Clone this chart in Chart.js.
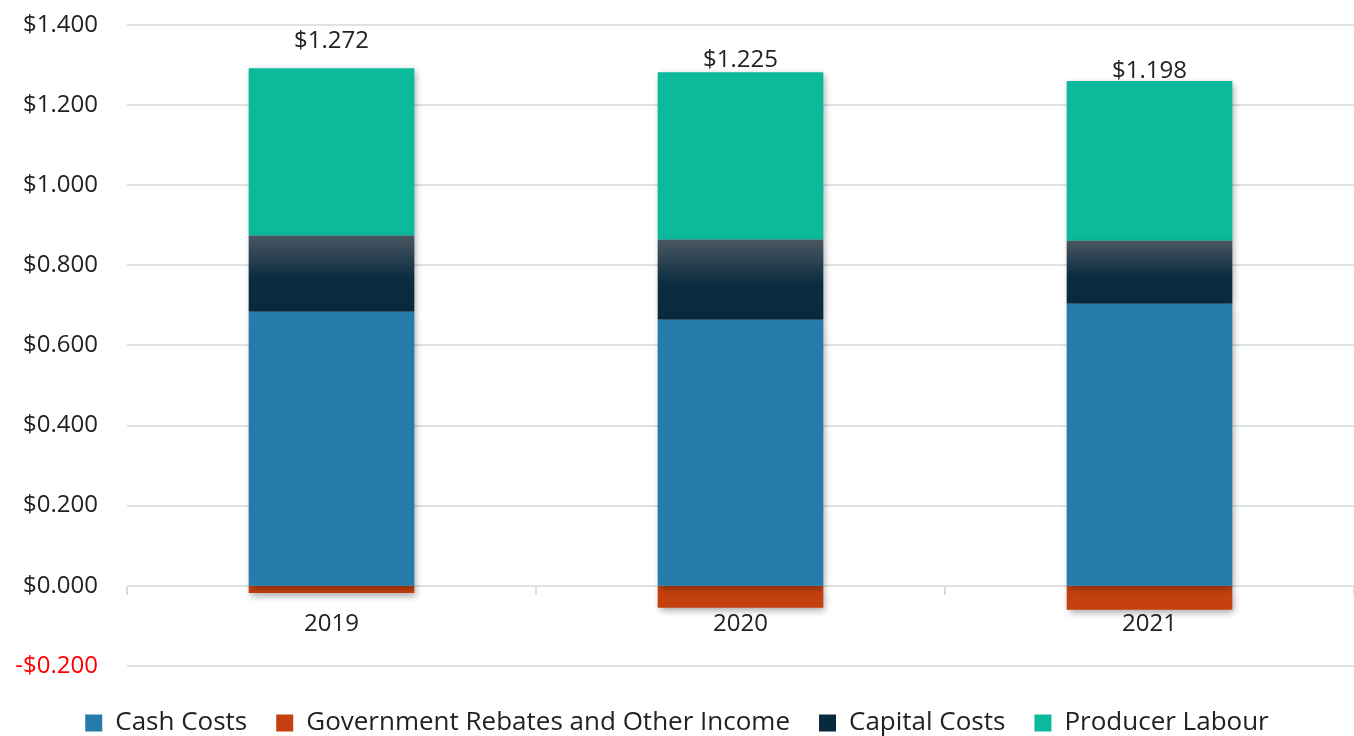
<!DOCTYPE html>
<html>
<head>
<meta charset="utf-8">
<script src="https://cdn.jsdelivr.net/npm/chart.js@4.4.1/dist/chart.umd.min.js"></script>
<style>
  html, body { margin: 0; padding: 0; background: #fff; }
  #wrap { width: 1354px; height: 736px; }
</style>
</head>
<body>
<div id="wrap"><canvas id="myChart"></canvas></div>
<script>
// Dados
const years = ['2019', '2020', '2021'];
const cashCosts = [0.684, 0.664, 0.704];
const rebates = [-0.018, -0.055, -0.060];
const capitalCosts = [0.190, 0.200, 0.157];
const producerLabour = [0.418, 0.418, 0.399];
const totals = [1.272, 1.225, 1.198];

const fontFamily = '"Open Sans", "Noto Sans", sans-serif';

function money(v) {
    const s = '$' + Math.abs(v).toFixed(3);
    return v < 0 ? '-' + s : s;
}

// Gradiente da barra de Capital Costs
function capitalGradient(context) {
    const chart = context.chart;
    const y = chart.scales.y;
    if (!y || context.dataIndex === undefined) return '#0a2b3e';
    const i = context.dataIndex;
    const top = y.getPixelForValue(cashCosts[i] + capitalCosts[i]);
    const bottom = y.getPixelForValue(cashCosts[i]);
    if (!isFinite(top) || !isFinite(bottom) || top === bottom) return '#0a2b3e';
    const g = chart.ctx.createLinearGradient(0, top, 0, bottom);
    g.addColorStop(0, '#4b5762');
    g.addColorStop(0.55, '#0b2d41');
    g.addColorStop(1, '#082a3c');
    return g;
}

// Sombra das barras
const shadowPlugin = {
    id: 'barShadow',
    beforeDatasetsDraw(chart) {
        const ctx = chart.ctx;
        ctx.save();
        ctx.shadowColor = 'rgba(0,0,0,0.35)';
        ctx.shadowBlur = 7;
        ctx.shadowOffsetX = 2;
        ctx.shadowOffsetY = 3;
    },
    afterDatasetsDraw(chart) {
        chart.ctx.restore();
    }
};

// Rótulos de total acima das barras
const totalLabels = {
    id: 'totalLabels',
    afterDraw(chart) {
        const ctx = chart.ctx;
        const x = chart.scales.x;
        const y = chart.scales.y;
        ctx.save();
        ctx.font = '24px ' + fontFamily;
        ctx.fillStyle = '#222';
        ctx.textAlign = 'center';
        ctx.textBaseline = 'middle';
        totals.forEach((t, i) => {
            ctx.fillText(money(t), x.getPixelForValue(i), y.getPixelForValue(t) - 35);
        });
        ctx.restore();
    }
};

const ctx = document.getElementById('myChart').getContext('2d');
new Chart(ctx, {
    type: 'bar',
    data: {
        labels: years,
        datasets: [
            { label: 'Cash Costs', data: cashCosts, backgroundColor: '#237ca9', stack: 's' },
            { label: 'Government Rebates and Other Income', data: rebates, backgroundColor: '#c4410f', stack: 's' },
            { label: 'Capital Costs', data: capitalCosts, backgroundColor: capitalGradient, stack: 's' },
            { label: 'Producer Labour', data: producerLabour, backgroundColor: '#0bb99b', stack: 's' }
        ]
    },
    options: {
        responsive: true,
        maintainAspectRatio: false,
        animation: false,
        layout: { padding: { top: 25, right: 0, bottom: -10, left: 0 } },
        datasets: {
            bar: { barPercentage: 0.405, categoryPercentage: 1, borderWidth: 0 }
        },
        scales: {
            x: {
                stacked: true,
                position: { y: 0 },
                grid: {
                    offset: true,
                    drawOnChartArea: false,
                    drawTicks: true,
                    tickLength: 9,
                    color: '#d9dcdc',
                    lineWidth: 2
                },
                border: { display: false },
                ticks: {
                    color: '#222',
                    font: { size: 24, family: fontFamily },
                    padding: 15
                }
            },
            y: {
                stacked: true,
                min: -0.2,
                max: 1.4,
                afterFit(scale) { scale.width = 127; },
                grid: {
                    color: '#dfe2e2',
                    lineWidth: 2,
                    drawTicks: true,
                    tickLength: 29,
                    tickColor: 'rgba(0,0,0,0)'
                },
                border: { display: false },
                ticks: {
                    stepSize: 0.2,
                    padding: 0,
                    font: { size: 24, family: fontFamily },
                    color: c => c.tick.value < -0.0001 ? '#ff0000' : '#222',
                    callback: v => money(Math.abs(v) < 1e-9 ? 0 : v)
                }
            }
        },
        plugins: {
            legend: {
                position: 'bottom',
                title: {
                    display: true,
                    text: ' ',
                    font: { size: 1 },
                    padding: { top: 0, bottom: 14 }
                },
                labels: {
                    boxWidth: 17,
                    boxHeight: 17,
                    padding: 29,
                    color: '#222',
                    font: { size: 26, family: fontFamily }
                }
            },
            tooltip: { enabled: false }
        }
    },
    plugins: [shadowPlugin, totalLabels]
});
</script>
</body>
</html>
